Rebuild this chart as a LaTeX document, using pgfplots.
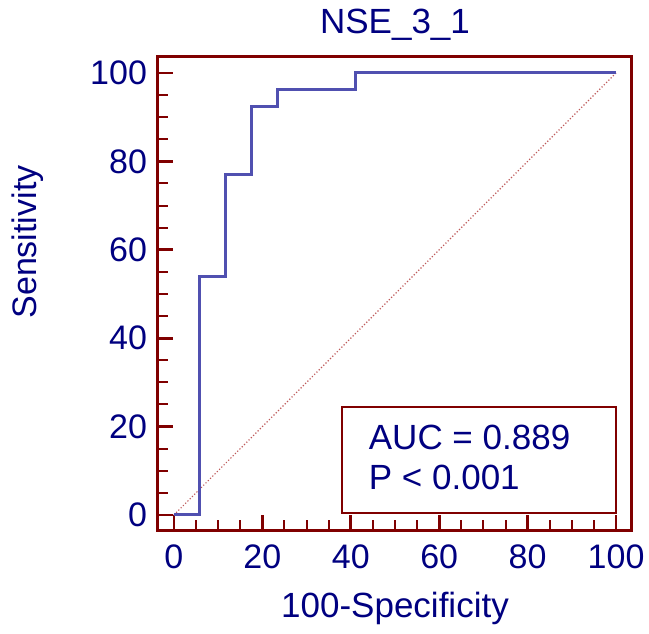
\documentclass[border=0pt]{standalone}
\usepackage{fontspec}
\setmainfont{Liberation Sans}
\usepackage{pgfplots}
\pgfplotsset{compat=1.18}

\definecolor{frame}{RGB}{128,0,0}
\definecolor{txt}{RGB}{0,0,128}
\definecolor{roc}{RGB}{80,80,176}
\definecolor{diag}{RGB}{190,90,90}

\begin{document}
\begin{tikzpicture}
  % canvas of the reference (1 px = 0.5 pt)
  \path[use as bounding box] (-79pt,-51.5pt) rectangle (245.5pt,265pt);
  \begin{axis}[
    at={(0,0)}, anchor=south west,
    scale only axis,
    width=237pt, height=236.5pt,
    xmin=-3.6, xmax=103.6,
    ymin=-3.4, ymax=103.6,
    axis line style={frame, line width=1.5pt},
    xtick={0,20,...,100}, ytick={0,20,...,100},
    minor tick num=3,
    xtick pos=bottom, ytick pos=left,
    tick align=inside,
    major tick length=7.5pt, minor tick length=5pt,
    every tick/.style={frame, line width=1.4pt},
    every minor tick/.style={frame, line width=1pt},
    /pgf/number format/assume math mode=true,
    tick label style={font=\fontsize{17}{20}\selectfont, text=txt},
    xticklabel style={yshift=-4pt},
    yticklabel style={xshift=-2pt},
    clip=false,
  ]
  \addplot[diag, line width=0.6pt, densely dotted] coordinates {(0,0) (100,100)};
  \addplot[roc, line width=1.5pt, line join=miter] coordinates {
    (0,0) (5.88,0) (5.88,53.85) (11.76,53.85) (11.76,76.92)
    (17.65,76.92) (17.65,92.31) (23.53,92.31) (23.53,96.15)
    (41.18,96.15) (41.18,100) (100,100)
  };
  \draw[frame, line width=1.3pt, fill=white] (axis cs:38,0.45) rectangle (axis cs:100,24.4);
  \node[anchor=base west, text=txt, font=\fontsize{17.5}{21}\selectfont] at (axis cs:42.5,14.8) {AUC = 0.889};
  \node[anchor=base west, text=txt, font=\fontsize{17.5}{21}\selectfont] at (axis cs:42.5,5.7) {P < 0.001};
  \end{axis}
  \node[text=txt, font=\fontsize{17.5}{20}\selectfont] at (118.5pt,252.5pt) {NSE\_3\_1};
  \node[text=txt, font=\fontsize{17.5}{20}\selectfont] at (118.5pt,-39pt) {100-Specificity};
  \node[text=txt, font=\fontsize{17}{20}\selectfont, rotate=90] at (-65pt,144pt) {Sensitivity};
\end{tikzpicture}
\end{document}
